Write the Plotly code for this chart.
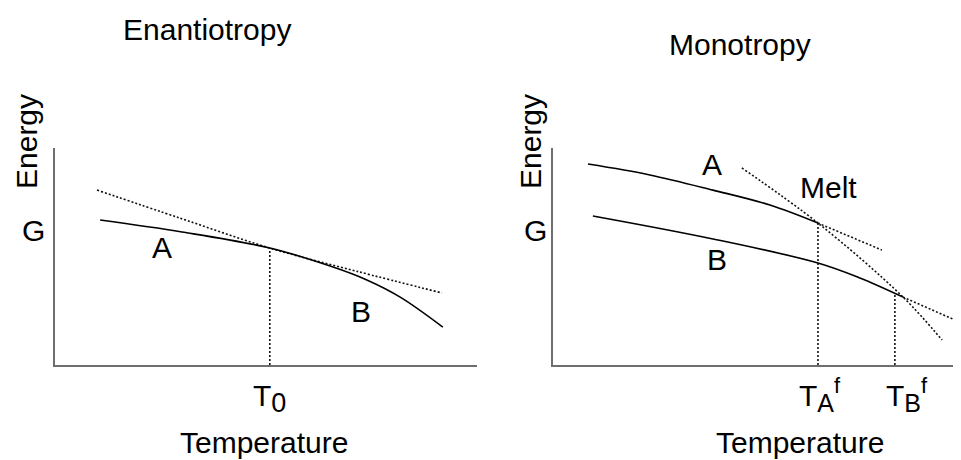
import plotly.graph_objects as go

# ---------------- data (arbitrary units: temperature 0-100, energy 0-100) -------------
# Enantiotropy panel
enan_solid_t = [10.7, 30.1, 50.9, 65.2, 73.9, 81.8, 91.9]
enan_solid_g = [66.8, 61.3, 53.9, 45.6, 39.2, 31.3, 17.5]
enan_dot_t = [9.95, 29.6, 50.9, 71.3, 91.7]
enan_dot_g = [80.6, 67.7, 53.9, 43.3, 33.2]
t0_value = 50.9
t0_g = 53.9
enan_ticks = [t0_value]
enan_ticktext = ["T<sub><span style='font-size:27px'>0</span></sub>"]

# Monotropy panel
mono_a_t = [8.6, 23.8, 39.3, 53.3, 65.1]
mono_a_g = [92.6, 87.6, 80.6, 73.7, 65.4]
mono_b_t = [9.8, 39.3, 65.1, 75.4, 86.0]
mono_b_g = [68.7, 58.1, 47.0, 40.1, 31.3]
melt_t = [46.4, 65.1, 86.0, 95.6]
melt_g = [90.8, 65.4, 31.3, 11.5]
tan_a_t = [65.1, 80.8]
tan_a_g = [65.4, 53.0]
tan_b_t = [86.0, 98.8]
tan_b_g = [31.3, 20.7]
taf_value, taf_g = 65.1, 65.4
tbf_value, tbf_g = 84.0, 33.0
mono_ticks = [taf_value, tbf_value]
mono_ticktext = ["T<sub><span style='font-size:25px'>A</span></sub><sup><span style='font-size:22px'>f</span></sup>",
                 "T<sub><span style='font-size:25px'>B</span></sub><sup><span style='font-size:22px'>f</span></sup>"]

titles = ["Enantiotropy", "Monotropy"]
x_title = "Temperature"
y_title = "Energy"
y_tick = "G"

# ---------------- styling -------------
OFF = 8                      # page body margin of the html page
W, H = 961 - OFF, 460 - OFF
FONT = "Liberation Sans, Arial, sans-serif"
FS = 30
AXC = "#6e6e6e"
DOT = "2px,2px"


def px(xp):
    return (xp - OFF) / W


def py(yp):
    return 1 - (yp - OFF) / H


fig = go.Figure()

solid = dict(color="black", width=1.6)
dotted = dict(color="#111111", width=1.6, dash=DOT)

# left panel
fig.add_trace(go.Scatter(x=enan_dot_t, y=enan_dot_g, mode="lines", line=dict(**dotted, shape="spline"),
                         xaxis="x", yaxis="y"))
fig.add_trace(go.Scatter(x=enan_solid_t, y=enan_solid_g, mode="lines", line=dict(**solid, shape="spline"),
                         xaxis="x", yaxis="y"))
fig.add_trace(go.Scatter(x=[t0_value, t0_value], y=[0, t0_g], mode="lines", line=dotted,
                         xaxis="x", yaxis="y"))

# right panel
fig.add_trace(go.Scatter(x=mono_a_t, y=mono_a_g, mode="lines", line=dict(**solid, shape="spline"),
                         xaxis="x2", yaxis="y2"))
fig.add_trace(go.Scatter(x=mono_b_t, y=mono_b_g, mode="lines", line=dict(**solid, shape="spline"),
                         xaxis="x2", yaxis="y2"))
fig.add_trace(go.Scatter(x=melt_t, y=melt_g, mode="lines", line=dict(**dotted, shape="spline"),
                         xaxis="x2", yaxis="y2"))
fig.add_trace(go.Scatter(x=tan_a_t, y=tan_a_g, mode="lines", line=dotted, xaxis="x2", yaxis="y2"))
fig.add_trace(go.Scatter(x=tan_b_t, y=tan_b_g, mode="lines", line=dotted, xaxis="x2", yaxis="y2"))
fig.add_trace(go.Scatter(x=[taf_value, taf_value], y=[0, taf_g], mode="lines", line=dotted,
                         xaxis="x2", yaxis="y2"))
fig.add_trace(go.Scatter(x=[tbf_value, tbf_value], y=[0, tbf_g], mode="lines", line=dotted,
                         xaxis="x2", yaxis="y2"))

ax_common = dict(range=[0, 100], showgrid=False, zeroline=False, showticklabels=False,
                 ticks="", showline=True, linecolor=AXC, linewidth=2, fixedrange=True)
ydom = [py(365), py(148)]

fig.update_layout(
    width=W, height=H, margin=dict(l=0, r=0, t=0, b=0),
    paper_bgcolor="white", plot_bgcolor="white", showlegend=False,
    font=dict(family=FONT, size=FS, color="black"),
    xaxis=dict(domain=[px(55), px(477)], anchor="y", **ax_common),
    yaxis=dict(domain=ydom, anchor="x", **ax_common),
    xaxis2=dict(domain=[px(553), min(1.0, px(960))], anchor="y2", **ax_common),
    yaxis2=dict(domain=ydom, anchor="x2", **ax_common),
)


def ann(text, xp, yp, angle=0, size=FS):
    fig.add_annotation(text=text, x=px(xp), y=py(yp), xref="paper", yref="paper",
                       showarrow=False, xanchor="center", yanchor="middle",
                       textangle=angle, font=dict(family=FONT, size=size, color="black"))


# titles
ann(titles[0], 207, 30)
ann(titles[1], 740, 45)
# axis titles
ann(x_title, 264, 442)
ann(x_title, 800, 442)
ann(y_title, 26, 142, angle=-90)
ann(y_title, 530, 142, angle=-90)
ann(y_tick, 33, 230)
ann(y_tick, 535, 230)
# curve labels
ann("A", 162, 247)
ann("B", 361, 311)
ann("A", 712, 165)
ann("Melt", 828, 187)
ann("B", 717, 259)

# tick labels on temperature axes
for v, t in zip(enan_ticks, enan_ticktext):
    fig.add_annotation(text=t, x=v, y=py(398), xref="x", yref="paper", showarrow=False,
                       xanchor="center", yanchor="middle", font=dict(family=FONT, size=FS))
for v, t, dx in zip(mono_ticks, mono_ticktext, [2, 12]):
    fig.add_annotation(text=t, x=v, y=py(395), xref="x2", yref="paper", showarrow=False,
                       xanchor="center", yanchor="middle", xshift=dx, font=dict(family=FONT, size=FS))

fig.write_html("out.html")
